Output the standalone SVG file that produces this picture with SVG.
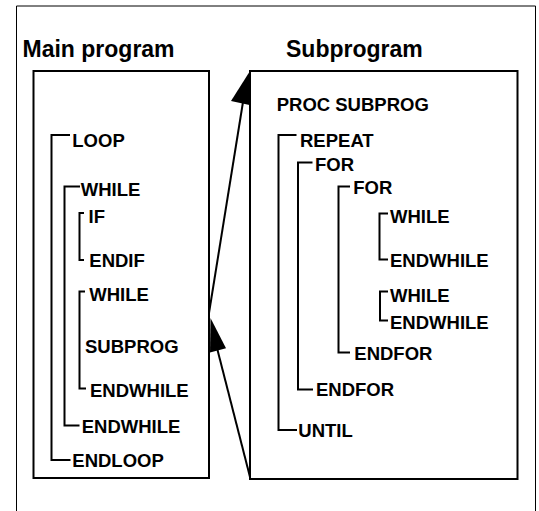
<svg xmlns="http://www.w3.org/2000/svg" width="539" height="511" viewBox="0 0 539 511">
<style>
text{font-family:"Liberation Sans",Arial,sans-serif;font-weight:bold;fill:#000}
.t{font-size:23px}
.s{font-size:18.5px}
.box{fill:#fff;stroke:#000;stroke-width:2}
.br{fill:none;stroke:#000;stroke-width:2}
.frame{fill:none;stroke:#000;stroke-width:1}
.ln{stroke:#000;stroke-width:2;fill:none}
.ah{fill:#000;stroke:none}
</style>
<rect width="539" height="511" fill="#fff"/>
<path class="frame" d="M16.5,511 V6 H535.5 V511"/>
<text class="t" x="22.5" y="56.5">Main program</text>
<text class="t" x="286" y="56.5">Subprogram</text>
<g id="main">
<rect class="box" x="33.5" y="71" width="175.5" height="407"/>
<path class="br" d="M70,135 H51.5 V460 H70.5"/>
<path class="br" d="M80,186.5 H64.5 V425.5 H79.5"/>
<path class="br" d="M84,213 H79.5 V260 H84"/>
<path class="br" d="M85,291.5 H79.5 V388.5 H86"/>
<text class="s" x="72.3" y="146.5">LOOP</text>
<text class="s" x="80.7" y="195.5">WHILE</text>
<text class="s" x="88.5" y="223.3">IF</text>
<text class="s" x="89.3" y="266.7">ENDIF</text>
<text class="s" x="89.3" y="300.7">WHILE</text>
<text class="s" x="85" y="353.3">SUBPROG</text>
<text class="s" x="90" y="396.7">ENDWHILE</text>
<text class="s" x="81.7" y="433.3">ENDWHILE</text>
<text class="s" x="72.3" y="467.3">ENDLOOP</text>
</g>
<g id="sub">
<rect class="box" x="250" y="71" width="267.5" height="408"/>
<path class="br" d="M296.5,135 H278.5 V430 H297"/>
<path class="br" d="M312.5,162.5 H298 V389.5 H313"/>
<path class="br" d="M350,186.5 H338.5 V352.5 H350"/>
<path class="br" d="M388,213.5 H379.5 V259.5 H388"/>
<path class="br" d="M388,291.5 H380 V320.5 H388"/>
<text class="s" x="276.7" y="110.7">PROC SUBPROG</text>
<text class="s" x="300" y="146.7">REPEAT</text>
<text class="s" x="315" y="170.7">FOR</text>
<text class="s" x="353.3" y="194">FOR</text>
<text class="s" x="390" y="222.7">WHILE</text>
<text class="s" x="390" y="266.7">ENDWHILE</text>
<text class="s" x="390" y="301.7">WHILE</text>
<text class="s" x="390" y="329">ENDWHILE</text>
<text class="s" x="354.3" y="360">ENDFOR</text>
<text class="s" x="316" y="395.7">ENDFOR</text>
<text class="s" x="298.3" y="437.3">UNTIL</text>
</g>
<g id="connectors">
<line class="ln" x1="209" y1="313" x2="243" y2="102"/>
<polygon class="ah" points="250,71 231,101 249.5,105"/>
<line class="ln" x1="250" y1="477" x2="217" y2="348"/>
<polygon class="ah" points="210.5,318 210,352.5 226,348.3"/>
</g>
</svg>
